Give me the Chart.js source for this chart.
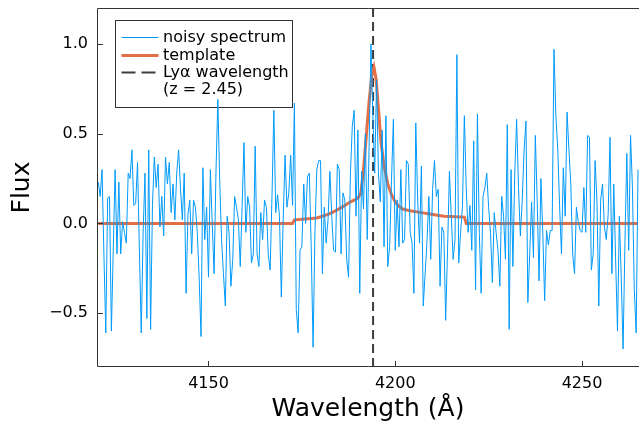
<!DOCTYPE html>
<html>
<head>
<meta charset="utf-8">
<script src="https://cdn.jsdelivr.net/npm/chart.js@4.4.1/dist/chart.umd.min.js"></script>
<style>
  html, body { margin: 0; padding: 0; background: #fff; }
</style>
</head>
<body>
<canvas id="spec" width="639" height="424"></canvas>
<script>
// spectrum sampling (uniform grid, Å)
const WAVE_START = 4120.5;
const WAVE_STEP = 0.5;

// noisy flux
const flux = [
  0.23, 0.15, 0.30, -0.17, -0.61, 0.14, 0.15, -0.60, -0.15, 0.30, -0.17, 0.23, -0.17, 0.01, -0.05, -0.11, 0.28, 0.25, 0.41, 0.10, 0.11, 0.34, -0.15, -0.61, -0.05, 0.28, -0.53,
  0.41, -0.59, 0.10, 0.37, 0.20, 0.33, -0.02, 0.15, -0.07, 0.37, 0.22, 0.34, 0.06, 0.22, 0.02, 0.28, 0.41, 0.20, 0.02, 0.28, -0.39, 0.05, 0.13, -0.17, 0.13, 0.09,
  -0.05, -0.30, -0.63, 0.31, -0.09, 0.09, -0.30, 0.30, 0.00, -0.28, 0.28, 0.69, 0.24, -0.09, -0.28, -0.46, 0.04, -0.05, -0.35, -0.20, 0.15, 0.09, 0.02, -0.24, 0.09, 0.45, -0.05,
  0.15, 0.09, -0.22, -0.17, 0.43, -0.17, -0.24, 0.06, -0.09, 0.13, 0.09, -0.17, -0.26, 0.15, 0.63, 0.06, 0.16, 0.04, -0.41, 0.02, 0.38, 0.09, 0.17, 0.38, 0.10, 0.67, -0.48,
  -0.61, -0.15, -0.13, 0.22, 0.00, 0.26, 0.28, -0.13, -0.69, -0.05, 0.30, 0.35, 0.35, -0.28, 0.09, -0.11, 0.02, 0.29, 0.04, -0.15, -0.16, 0.33, 0.30, -0.17, 0.17, 0.13,
  -0.20, -0.30, 0.28, 0.54, 0.63, 0.04, 0.52, -0.39, 0.29, 0.08, 0.50, -0.09, 0.43, 1.00, 0.60, 0.28, 0.80, 0.28, 0.12, 0.52, -0.13, 0.60, -0.24, -0.13, 0.24, 0.58, -0.15,
  0.13, -0.13, 0.30, -0.11, -0.09, 0.35, 0.33, -0.05, -0.11, -0.39, 0.56, 0.13, -0.11, 0.32, -0.46, -0.28, -0.10, 0.15, -0.20, 0.19, 0.35, 0.15, 0.19, -0.35, -0.02, -0.05, -0.54,
  -0.15, 0.29, 0.04, -0.20, -0.09, 0.94, -0.22, -0.05, 0.10, 0.60, 0.20, -0.05, 0.10, -0.15, 0.46, -0.37, 0.61, -0.05, -0.39, 0.15, 0.20, 0.28, 0.09, -0.05, -0.33, 0.06,
  -0.05, -0.15, -0.35, 0.15, 0.04, -0.20, 0.55, -0.59, 0.30, -0.24, 0.28, 0.58, 0.20, -0.07, 0.13, 0.41, 0.57, -0.44, -0.17, 0.12, -0.19, 0.49, 0.13, -0.32, 0.25, -0.05, -0.43,
  -0.04, -0.12, -0.04, -0.04, 0.97, 0.60, 0.42, 0.10, -0.17, 0.31, 0.04, 0.62, 0.41, 0.22, -0.17, -0.28, 0.09, 0.01, -0.04, -0.05, 0.20, -0.05, 0.49, 0.48, -0.26, -0.17, 0.35,
  0.13, -0.46, 0.13, 0.22, -0.02, -0.09, 0.05, 0.48, -0.28, 0.22, -0.20, -0.60, 0.04, -0.30, -0.70, -0.10, 0.39, -0.15, 0.49, 0.20, -0.37, -0.61, 0.30
];

// template (Lyα emission profile)
const templateWave = [4120.5, 4172.5, 4173.0, 4176, 4179, 4182, 4184, 4186.5, 4188, 4190, 4190.8, 4191.5, 4192.3, 4193.0, 4193.7, 4194.3,
  4194.9, 4195.5, 4196.2, 4197, 4198, 4199, 4200, 4201, 4202, 4204, 4207, 4210, 4213, 4218.5, 4219.0, 4265];
const templateFlux = [0, 0, 0.02, 0.025, 0.03, 0.05, 0.07, 0.10, 0.12, 0.14, 0.17, 0.30, 0.50, 0.68, 0.82, 0.87,
  0.80, 0.64, 0.45, 0.32, 0.22, 0.16, 0.12, 0.095, 0.08, 0.07, 0.06, 0.05, 0.04, 0.035, 0, 0];

const LYA_REST = 1215.67;
const REDSHIFT = 2.45;
const lyaObs = LYA_REST * (1 + REDSHIFT);

const xTicks = [4150, 4200, 4250];
const yTicks = [-0.5, 0, 0.5, 1.0];
const X_MIN = 4120.15, X_MAX = 4265.26;
const Y_MIN = -0.8, Y_MAX = 1.2;

const COLORS = {
  blue: '#009AFA',
  orange: '#E26F46',
  vline: '#3d3d3d',
  frame: '#333333',
  text: '#000000',
};
const FONT = '"DejaVu Sans", Verdana, sans-serif';

const labels = ['noisy spectrum', 'template', 'Lyα wavelength', '(z = ' + REDSHIFT.toFixed(2) + ')'];

// box frame + inward ticks
const FrameTicks = {
  id: 'FrameTicks',
  afterDatasetsDraw(chart) {
    const { ctx, chartArea: a, scales } = chart;
    ctx.save();
    ctx.strokeStyle = COLORS.frame;
    ctx.lineWidth = 1;
    ctx.beginPath();
    ctx.moveTo(a.left + 0.5, a.top + 0.5);
    ctx.lineTo(a.left + 0.5, a.bottom - 0.5);
    ctx.lineTo(a.right, a.bottom - 0.5);
    ctx.moveTo(a.left + 0.5, a.top + 0.5);
    ctx.lineTo(a.right, a.top + 0.5);
    scales.x.ticks.forEach(t => {
      const px = Math.round(scales.x.getPixelForValue(t.value)) + 0.5;
      ctx.moveTo(px, a.bottom);
      ctx.lineTo(px, a.bottom - 6);
    });
    scales.y.ticks.forEach(t => {
      const py = Math.round(scales.y.getPixelForValue(t.value)) + 0.5;
      ctx.moveTo(a.left, py);
      ctx.lineTo(a.left + 6, py);
    });
    ctx.stroke();
    ctx.restore();
  }
};

// legend box, drawn under the data like the original
const LegendBox = {
  id: 'LegendBox',
  beforeDatasetsDraw(chart) {
    const { ctx, chartArea: a } = chart;
    const bx = a.left + 18.5, by = a.top + 12.5, bw = 177, bh = 87;
    ctx.save();
    ctx.fillStyle = '#fff';
    ctx.fillRect(bx, by, bw, bh);
    ctx.strokeStyle = COLORS.frame;
    ctx.lineWidth = 1;
    ctx.strokeRect(bx, by, bw, bh);

    const x0 = bx + 6, x1 = bx + 43, tx = bx + 47.5;
    const rows = [by + 17, by + 35, by + 52, by + 69];

    ctx.lineCap = 'butt';
    ctx.strokeStyle = COLORS.blue; ctx.lineWidth = 1;
    ctx.beginPath(); ctx.moveTo(x0, rows[0]); ctx.lineTo(x1, rows[0]); ctx.stroke();
    ctx.strokeStyle = COLORS.orange; ctx.lineWidth = 3;
    ctx.beginPath(); ctx.moveTo(x0, rows[1]); ctx.lineTo(x1, rows[1]); ctx.stroke();
    ctx.strokeStyle = COLORS.vline; ctx.lineWidth = 2; ctx.setLineDash([14, 6]);
    ctx.beginPath(); ctx.moveTo(x0, rows[2]); ctx.lineTo(x1, rows[2]); ctx.stroke();
    ctx.setLineDash([]);

    ctx.fillStyle = COLORS.text;
    ctx.font = '16px ' + FONT;
    ctx.textBaseline = 'middle';
    labels.forEach((s, i) => ctx.fillText(s, tx, rows[i]));
    ctx.restore();
  }
};

const specData = flux.map((f, i) => ({ x: WAVE_START + i * WAVE_STEP, y: f }));
const tplData = templateWave.map((w, i) => ({ x: w, y: templateFlux[i] }));

new Chart(document.getElementById('spec'), {
  type: 'line',
  data: {
    datasets: [
      { label: labels[0], data: specData, borderColor: COLORS.blue, borderWidth: 1, pointRadius: 0, tension: 0 },
      { label: labels[1], data: tplData, borderColor: COLORS.orange, borderWidth: 3, pointRadius: 0, tension: 0 },
      { label: labels[2], data: [{ x: lyaObs, y: Y_MIN }, { x: lyaObs, y: Y_MAX }],
        borderColor: COLORS.vline, borderWidth: 2, borderDash: [9, 5], pointRadius: 0 }
    ]
  },
  options: {
    responsive: false,
    animation: false,
    layout: { padding: { top: 8, right: 0, bottom: 0, left: 0 } },
    plugins: { legend: { display: false }, tooltip: { enabled: false } },
    scales: {
      x: {
        type: 'linear',
        min: X_MIN, max: X_MAX,
        afterBuildTicks: s => { s.ticks = xTicks.map(v => ({ value: v })); },
        afterFit: s => { s.height = 57; s.paddingLeft = 0; s.paddingRight = 0; },
        grid: { display: false, drawTicks: false },
        border: { display: false },
        ticks: { color: COLORS.text, padding: 7, maxRotation: 0, font: { family: FONT, size: 16 }, callback: v => String(v) },
        title: { display: true, text: 'Wavelength (Å)', color: COLORS.text, padding: 0, font: { family: FONT, size: 25 } }
      },
      y: {
        min: Y_MIN, max: Y_MAX,
        afterBuildTicks: s => { s.ticks = yTicks.map(v => ({ value: v })); },
        afterFit: s => { s.width = 97; s.paddingTop = 0; s.paddingBottom = 0; },
        grid: { display: false, drawTicks: false },
        border: { display: false },
        ticks: { color: COLORS.text, padding: 9, font: { family: FONT, size: 16 },
          callback: v => (v < 0 ? '\u2212' : '') + Math.abs(v).toFixed(1) },
        title: { display: true, text: 'Flux', color: COLORS.text, padding: { top: 7, bottom: 0 }, font: { family: FONT, size: 25 } }
      }
    }
  },
  plugins: [LegendBox, FrameTicks]
});
</script>
</body>
</html>
